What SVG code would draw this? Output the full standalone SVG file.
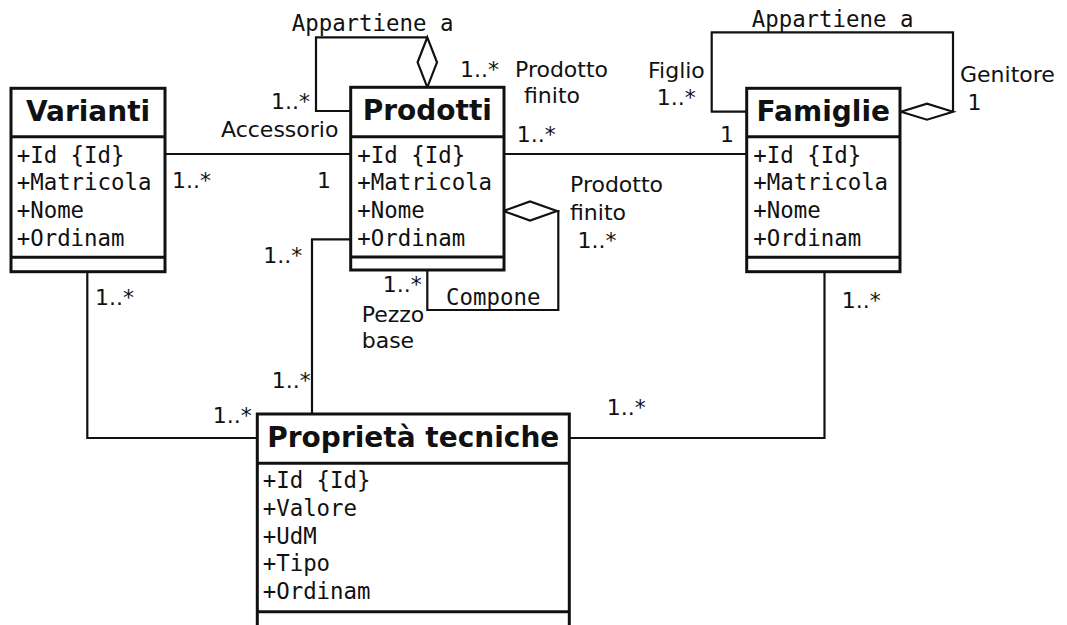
<svg xmlns="http://www.w3.org/2000/svg" width="1067" height="625" viewBox="0 0 1067 625">
  <style>
    .box { fill: #ffffff; stroke: #111111; stroke-width: 3; }
    .div { stroke: #111111; stroke-width: 3; }
    .title { font-family: "DejaVu Sans", "Liberation Sans", sans-serif; font-weight: bold; font-size: 28px; fill: #111111; text-anchor: middle; }
    .attr { font-family: "DejaVu Sans Mono", "Liberation Mono", monospace; font-size: 22.4px; fill: #111111; }
    .link { fill: none; stroke: #111111; stroke-width: 2.2; }
    .agg { fill: #ffffff; stroke: #111111; stroke-width: 2.2; stroke-linejoin: miter; }
    .lbl { font-family: "DejaVu Sans", "Liberation Sans", sans-serif; font-size: 22px; fill: #111111; }
    .mono { font-family: "DejaVu Sans Mono", "Liberation Mono", monospace; font-size: 22.4px; fill: #111111; }
  </style>
  <rect width="1067" height="625" fill="#ffffff"/>

  <!-- associations -->
  <g id="connectors">
    <!-- Varianti - Prodotti -->
    <line class="link" x1="165" y1="154" x2="351" y2="154"/>
    <!-- Prodotti - Famiglie -->
    <line class="link" x1="504" y1="154" x2="747" y2="154"/>
    <!-- Prodotti self aggregation: Appartiene a -->
    <polyline class="link" points="351,111 316,111 316,37.3 427.3,37.3"/>
    <polygon class="agg" points="427.3,37.3 437,62.3 427.3,87.3 417.6,62.3"/>
    <!-- Famiglie self aggregation: Appartiene a -->
    <polyline class="link" points="747,111.7 711.7,111.7 711.7,32.3 953,32.3 953,111.7"/>
    <polygon class="agg" points="953,111.7 927,103.7 901,111.7 927,119.7"/>
    <!-- Prodotti self aggregation: Compone -->
    <polyline class="link" points="427.3,270 427.3,310 558.3,310 558.3,211 557,211"/>
    <polygon class="agg" points="557,211 530,201.5 503.5,211 530,220.5"/>
    <!-- Prodotti - Proprieta -->
    <polyline class="link" points="351,239.3 312,239.3 312,414"/>
    <!-- Varianti - Proprieta -->
    <polyline class="link" points="87.3,272 87.3,438 258,438"/>
    <!-- Famiglie - Proprieta -->
    <polyline class="link" points="824.5,272 824.5,438 569,438"/>

    <!-- labels -->
    <text class="mono" x="291.7" y="30.5">Appartiene a</text>
    <text class="lbl" x="271" y="109">1..*</text>
    <text class="lbl" x="221" y="137">Accessorio</text>
    <text class="lbl" x="460" y="77.3">1..*</text>
    <text class="lbl" x="515" y="77.3">Prodotto</text>
    <text class="lbl" x="524" y="103.3">finito</text>
    <text class="lbl" x="516.7" y="141.7">1..*</text>
    <text class="lbl" x="172" y="187.5">1..*</text>
    <text class="lbl" x="317" y="188">1</text>

    <text class="mono" x="751.7" y="26.7">Appartiene a</text>
    <text class="lbl" x="648" y="78">Figlio</text>
    <text class="lbl" x="656.7" y="104.5">1..*</text>
    <text class="lbl" x="960" y="81.7">Genitore</text>
    <text class="lbl" x="967.5" y="110">1</text>
    <text class="lbl" x="720" y="141.7">1</text>

    <text class="lbl" x="570" y="191.7">Prodotto</text>
    <text class="lbl" x="570" y="220">finito</text>
    <text class="lbl" x="577.5" y="248">1..*</text>
    <text class="lbl" x="382.7" y="291.7">1..*</text>
    <text class="mono" x="446" y="305">Compone</text>
    <text class="lbl" x="361.7" y="321.7">Pezzo</text>
    <text class="lbl" x="361.7" y="348.3">base</text>

    <text class="lbl" x="263.3" y="263.3">1..*</text>
    <text class="lbl" x="95" y="305">1..*</text>
    <text class="lbl" x="271.7" y="388.3">1..*</text>
    <text class="lbl" x="212.7" y="422.7">1..*</text>
    <text class="lbl" x="841.8" y="307.5">1..*</text>
    <text class="lbl" x="606.7" y="415">1..*</text>
  </g>

  <!-- classes -->
  <g id="varianti">
    <rect class="box" x="11" y="88.3" width="154" height="183.4"/>
    <line class="div" x1="11" y1="136.7" x2="165" y2="136.7"/>
    <line class="div" x1="11" y1="257.3" x2="165" y2="257.3"/>
    <text class="title" x="88" y="120.7">Varianti</text>
    <text class="attr" x="16.7" y="162.7">+Id {Id}</text>
    <text class="attr" x="16.7" y="190.4">+Matricola</text>
    <text class="attr" x="16.7" y="218.1">+Nome</text>
    <text class="attr" x="16.7" y="245.8">+Ordinam</text>
  </g>

  <g id="prodotti">
    <rect class="box" x="350.7" y="87.3" width="153.3" height="182.7"/>
    <line class="div" x1="350.7" y1="136.7" x2="504" y2="136.7"/>
    <line class="div" x1="350.7" y1="257" x2="504" y2="257"/>
    <text class="title" x="427.3" y="120.3">Prodotti</text>
    <text class="attr" x="357.3" y="162.7">+Id {Id}</text>
    <text class="attr" x="357.3" y="190.4">+Matricola</text>
    <text class="attr" x="357.3" y="218.1">+Nome</text>
    <text class="attr" x="357.3" y="245.8">+Ordinam</text>
  </g>

  <g id="famiglie">
    <rect class="box" x="746.7" y="88.3" width="153.3" height="183.4"/>
    <line class="div" x1="746.7" y1="136.7" x2="900" y2="136.7"/>
    <line class="div" x1="746.7" y1="257.3" x2="900" y2="257.3"/>
    <text class="title" x="823.3" y="120.7">Famiglie</text>
    <text class="attr" x="753.3" y="162.7">+Id {Id}</text>
    <text class="attr" x="753.3" y="190.4">+Matricola</text>
    <text class="attr" x="753.3" y="218.1">+Nome</text>
    <text class="attr" x="753.3" y="245.8">+Ordinam</text>
  </g>

  <g id="proprieta-tecniche">
    <rect class="box" x="257.3" y="414" width="312" height="220"/>
    <line class="div" x1="257.3" y1="463.3" x2="569.3" y2="463.3"/>
    <line class="div" x1="257.3" y1="611.7" x2="569.3" y2="611.7"/>
    <text class="title" x="413.3" y="446.7">Proprietà tecniche</text>
    <text class="attr" x="262.7" y="488">+Id {Id}</text>
    <text class="attr" x="262.7" y="515.8">+Valore</text>
    <text class="attr" x="262.7" y="543.6">+UdM</text>
    <text class="attr" x="262.7" y="571.4">+Tipo</text>
    <text class="attr" x="262.7" y="599.2">+Ordinam</text>
  </g>
</svg>
